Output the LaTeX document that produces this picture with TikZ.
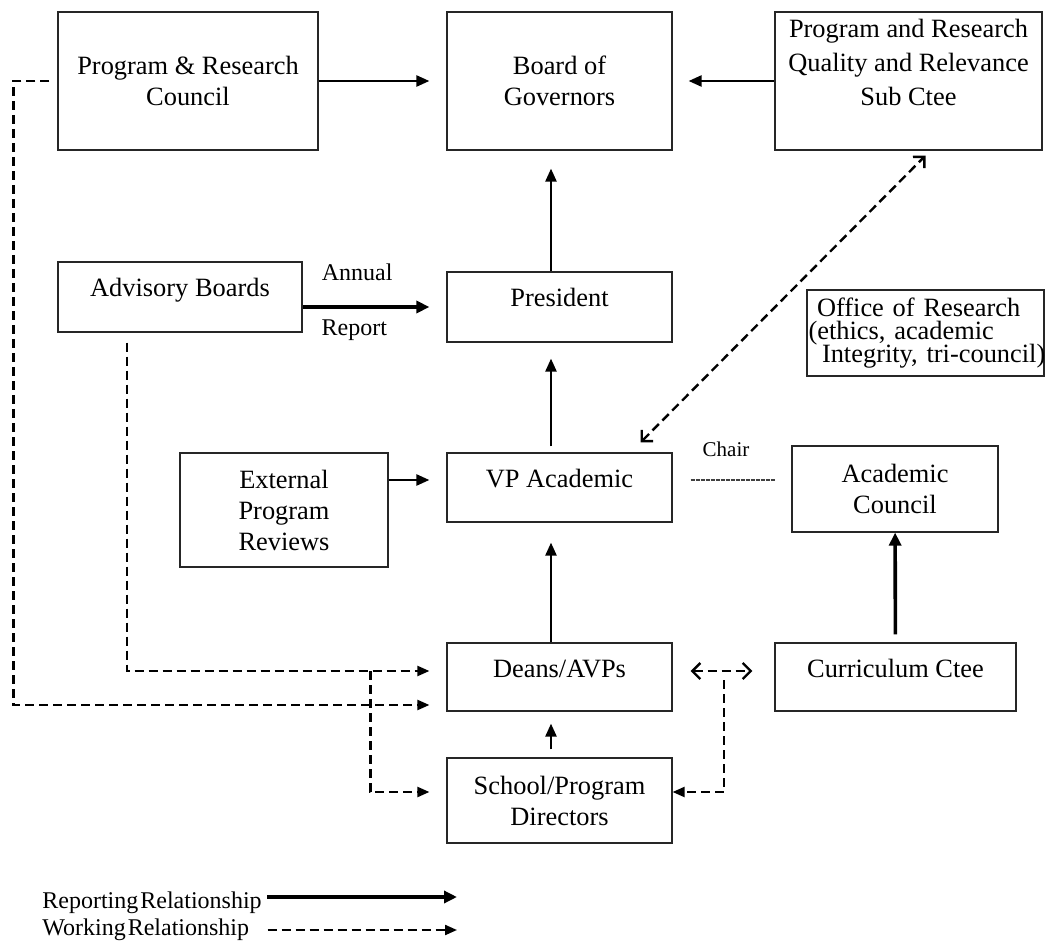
\documentclass[tikz,border=0pt]{standalone}
\usepackage{fontspec}
\setmainfont{Liberation Serif}
\usetikzlibrary{arrows.meta,calc}

\begin{document}
\begin{tikzpicture}[
  x=0.5pt,y=-0.5pt,
  frame/.style={draw=black!85,line width=0.6pt,inner sep=0pt,font=\fontsize{13.2}{15.5}\selectfont},
  box/.style={frame,align=center},
  oneline/.style={box,text height=9pt,text depth=9pt},
  rep/.style={-{Triangle[length=6.5pt,width=5.5pt]},line width=1.2pt},
  repthick/.style={-{Triangle[length=6.5pt,width=6pt]},line width=1.8pt},
  work/.style={-{Triangle[length=6pt,width=5pt]},line width=1.1pt,dash pattern=on 4.5pt off 2.5pt},
  workboth/.style={{Straight Barb[length=4pt,width=8pt]}-{Straight Barb[length=4pt,width=8pt]},line width=1.2pt,dash pattern=on 4.5pt off 2.5pt},
  chairline/.style={line width=0.7pt,draw=black!75,dash pattern=on 2pt off 0.5pt},
  note/.style={inner sep=0pt,font=\fontsize{12}{14}\selectfont}
]
  \useasboundingbox (0,0) rectangle (1045,941);

  % top row
  \node[box,minimum width=130pt,minimum height=69pt] (prc) at (188,81) {Program \& Research\\Council};
  \node[box,minimum width=112.5pt,minimum height=69pt] (bog) at (559.5,81) {Board of\\Governors};
  \node[frame,minimum width=133.5pt,minimum height=69pt,text height=13pt,text depth=56pt] (prq) at (908.5,81)
    {\begin{tabular}[t]{@{}c@{}}Program and Research\\[1.5pt]Quality and Relevance\\[1.5pt]Sub Ctee\end{tabular}};

  % middle rows
  \node[oneline,minimum width=122pt,minimum height=35pt] (adv) at (180,297) {Advisory Boards};
  \node[oneline,minimum width=112.5pt,minimum height=35pt] (pres) at (559.5,307) {President};
  \node[frame,minimum width=118.5pt,minimum height=43pt,align=left,text width=115pt] (off) at (925.5,333)
    {\mbox{\hspace*{3.25pt}Office of Research}\\[-4pt]\mbox{\hspace*{-1pt}(ethics, academic}\\[-4pt]\mbox{\hspace*{5.75pt}Integrity, tri-council)}};
  \node[box,minimum width=104pt,minimum height=57pt] (ext) at (284,510) {External\\Program\\Reviews};
  \node[oneline,minimum width=112.5pt,minimum height=34.5pt] (vp) at (559.5,487.5) {VP Academic};
  \node[box,minimum width=103pt,minimum height=43pt] (ac) at (895,489) {Academic\\Council};

  % bottom rows
  \node[oneline,minimum width=112.5pt,minimum height=34pt] (deans) at (559.5,677) {Deans/AVPs};
  \node[oneline,minimum width=120.5pt,minimum height=34pt] (cur) at (895.5,677) {Curriculum Ctee};
  \node[box,minimum width=112.5pt,minimum height=42.5pt] (school) at (559.5,800.5) {School/Program\\Directors};

  % reporting lines
  \draw[rep,shorten >=8.5pt] (prc) -- (bog);
  \draw[rep,shorten >=8pt] (prq) -- (bog);
  \draw[rep,shorten >=9pt] ([xshift=-4.25pt]pres.north) -- ([xshift=-4.25pt]bog.south);
  \draw[rep,shorten <=3pt,shorten >=8pt] ([xshift=-4.25pt]vp.north) -- ([xshift=-4.25pt]pres.south);
  \draw[rep,shorten >=10pt] ([xshift=-4.25pt]deans.north) -- ([xshift=-4.25pt]vp.south);
  \draw[rep,shorten <=4pt,shorten >=6pt] ([xshift=-4.25pt]school.north) -- ([xshift=-4.25pt]deans.south);
  \draw[repthick,shorten <=4pt] (cur) -- (ac);
  \draw[repthick,shorten >=8.5pt] (adv.east |- pres.west) -- (pres.west)
    node[note,pos=0.38,above=12pt] {Annual}
    node[note,pos=0.36,below=5.5pt] {Report};
  \draw[rep,shorten >=8.5pt] ($(vp.west -| ext.east)+(0,-7.5)$) -- ($(vp.west)+(0,-7.5)$);
  \draw[chairline,shorten <=9pt,shorten >=8pt] ($(vp.east)+(0,-7.5)$) -- ($(vp.east -| ac.west)+(0,-7.5)$)
    node[inner sep=0pt,font=\fontsize{10.5}{12}\selectfont,pos=0.45,above=11.5pt] {Chair};

  % working lines
  \draw[workboth] ($(vp.north east)+(-32,-10)$) -- ($(prq.south)+(17,5)$);
  \draw[work] ($(adv.south)+(-53,10)$) |- ($(deans.west)+(-17,-6)$);
  \draw[work] ($(prc.west)+(-8,0)$) -- ++(-36,0) |- ($(deans.west)+(-17,28)$);
  \coordinate (split) at ($(deans.west)+(-76,-6)$);
  \draw[work] (split) |- ($(school.west)+(-17,-8.5)$);
  \draw[workboth] ($(deans.east)+(18,-6)$) -- ($(cur.west)+(-22,-6)$);
  \coordinate (split2) at ($(deans.east)+(51,3)$);
  \draw[work] (split2) |- ($(school.east)+(0,-8.5)$);

  % legend
  \node[note,anchor=west] (replab) at (42,903) {Reporting\hspace{1pt}Relationship};
  \node[note,anchor=west] (wrklab) at (42,930) {Working\hspace{1pt}Relationship};
  \coordinate (repend) at (457,897);
  \coordinate (wrkend) at (457,930);
  \draw[repthick] ($(replab.east |- repend)+(5,0)$) -- (repend);
  \draw[work] ($(wrklab.east |- wrkend)+(18,0)$) -- (wrkend);
\end{tikzpicture}
\end{document}
